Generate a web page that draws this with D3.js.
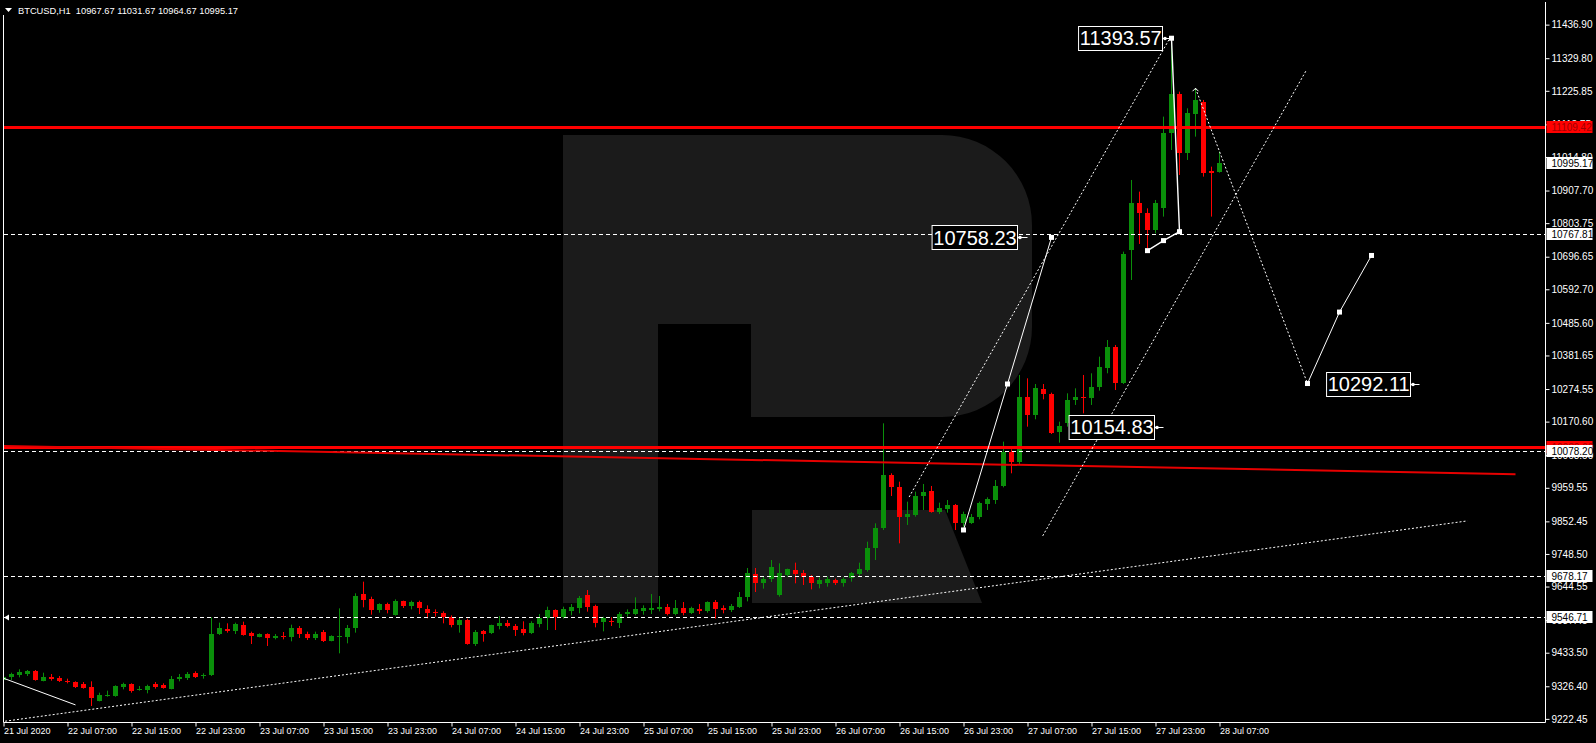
<!DOCTYPE html>
<html><head><meta charset="utf-8">
<script src="https://cdnjs.cloudflare.com/ajax/libs/d3/7.8.5/d3.min.js"></script>
<style>
html,body{margin:0;padding:0;background:#000;overflow:hidden}
svg{display:block}
text{font-family:"Liberation Sans",Arial,sans-serif}
</style></head><body>
<svg id="c" width="1596" height="743"></svg>
<script>
// ---------------- data ----------------
const symbol = "BTCUSD,H1";
const timeLabels = ["21 Jul 2020","22 Jul 07:00","22 Jul 15:00","22 Jul 23:00","23 Jul 07:00","23 Jul 15:00","23 Jul 23:00","24 Jul 07:00","24 Jul 15:00","24 Jul 23:00","25 Jul 07:00","25 Jul 15:00","25 Jul 23:00","26 Jul 07:00","26 Jul 15:00","26 Jul 23:00","27 Jul 07:00","27 Jul 15:00","27 Jul 23:00","28 Jul 07:00"];
const priceTicks = [11436.90,11329.80,11225.85,11118.75,11014.80,10907.70,10803.75,10696.65,10592.70,10485.60,10381.65,10274.55,10170.60,10063.50,9959.55,9852.45,9748.50,9644.55,9537.45,9433.50,9326.40,9222.45];

const open = [
9346.4,9354.9,9362.4,9365.5,9375.1,9344.3,9354.9,9352.8,9344.3,9340.0,
9332.6,9325.1,9280.5,9295.4,9295.4,9323.0,9333.7,9316.6,9314.5,9333.7,
9330.5,9318.8,9348.5,9351.7,9367.7,9360.2,9362.4,9493.1,9510.2,9501.6,
9522.9,9497.4,9484.6,9492.1,9481.4,9485.7,9484.6,9511.2,9493.1,9480.4,
9499.5,9471.9,9485.7,9484.6,9511.2,9620.7,9603.7,9569.7,9588.8,9553.8,
9597.3,9582.5,9594.2,9571.8,9564.4,9561.2,9548.4,9520.8,9537.8,9461.3,
9503.8,9495.3,9518.7,9529.3,9518.7,9508.0,9497.4,9525.0,9543.1,9569.7,
9548.4,9567.6,9575.0,9617.6,9582.5,9532.5,9535.7,9529.3,9557.0,9557.0,
9565.5,9569.7,9571.8,9580.3,9557.0,9576.1,9561.2,9571.8,9565.5,9595.2,
9577.2,9569.7,9580.3,9610.1,9684.5,9656.9,9667.5,9617.6,9682.4,9697.3,
9688.8,9676.0,9652.6,9656.9,9665.4,9654.8,9670.7,9684.5,9697.3,9766.4,
9830.2,10000.4,9961.0,9865.3,9872.8,9933.4,9950.4,9883.4,9890.8,9904.7,
9846.2,9848.3,9865.3,9908.0,9920.6,9965.3,10074.8,10042.9,10248.1,10191.8,
10273.6,10258.7,10138.6,10165.2,10239.6,10248.1,10244.9,10280.0,10340.6,10409.8,
10294.9,10718.1,10869.1,10837.2,10781.9,10851.0,11090.3,11215.7,11026.5,11151.9,
11191.3,10971.2,10967.67];
const high = [
9362.4,9369.8,9380.5,9378.3,9378.3,9369.8,9365.5,9359.2,9350.7,9342.2,
9340.0,9342.2,9306.0,9312.4,9329.4,9337.9,9335.8,9327.3,9331.5,9340.0,
9335.8,9359.2,9365.5,9371.9,9374.1,9367.7,9546.3,9529.3,9527.2,9529.3,
9532.5,9500.6,9495.3,9495.3,9493.1,9499.5,9522.9,9518.7,9500.6,9500.6,
9505.9,9488.9,9575.0,9521.9,9622.9,9660.1,9612.2,9591.0,9593.1,9603.7,
9599.5,9599.5,9599.5,9584.6,9571.8,9565.5,9552.7,9544.2,9542.1,9505.9,
9505.9,9522.9,9550.6,9537.8,9525.0,9533.6,9533.6,9556.9,9580.3,9571.8,
9580.3,9588.8,9614.4,9633.5,9586.7,9548.4,9546.3,9563.3,9571.8,9610.1,
9584.6,9620.7,9614.4,9588.8,9601.6,9595.2,9580.3,9588.8,9597.3,9601.6,
9584.6,9588.8,9627.1,9703.7,9703.7,9678.2,9729.2,9718.6,9701.6,9720.7,
9697.3,9681.4,9673.9,9676.0,9669.7,9673.9,9690.9,9720.7,9787.7,9846.2,
10165.2,10005.7,9979.1,9915.3,9947.2,9971.7,9965.3,9912.1,9920.6,9907.9,
9883.4,9876.0,9915.3,9929.1,9984.4,10106.7,10082.2,10319.4,10308.7,10290.6,
10290.6,10263.0,10170.5,10260.9,10276.8,10319.4,10324.7,10377.9,10431.0,10415.1,
10712.8,10941.4,10904.2,10851.0,10877.6,11143.5,11393.57,11223.2,11170.0,11233.8,
11196.6,10983.9,11031.67];
const low = [
9344.3,9346.4,9354.9,9359.2,9344.3,9342.2,9344.3,9340.0,9335.8,9320.9,
9318.8,9263.5,9278.4,9293.2,9293.2,9316.6,9306.0,9312.4,9303.9,9318.8,
9318.8,9316.6,9342.2,9346.4,9352.8,9350.7,9359.2,9490.0,9497.4,9493.1,
9487.8,9461.3,9482.5,9454.9,9476.1,9476.1,9469.8,9480.4,9474.0,9474.0,
9467.6,9469.8,9431.5,9463.4,9497.4,9578.2,9554.8,9561.2,9559.1,9551.6,
9576.1,9571.8,9556.9,9543.1,9548.4,9527.2,9514.4,9497.4,9459.1,9454.9,
9468.7,9493.1,9508.0,9514.4,9486.8,9488.9,9493.1,9514.4,9505.9,9505.9,
9542.1,9552.7,9559.1,9564.4,9514.4,9501.6,9518.7,9512.3,9548.4,9552.7,
9554.8,9556.9,9565.5,9552.7,9552.7,9552.7,9556.9,9556.9,9561.2,9542.1,
9559.1,9563.3,9576.1,9597.3,9627.1,9637.8,9659.0,9612.2,9676.0,9654.8,
9649.5,9635.6,9638.8,9644.1,9649.5,9644.1,9660.1,9676.0,9692.0,9729.2,
9824.9,9933.4,9782.4,9840.9,9867.4,9888.7,9880.2,9876.0,9880.2,9824.9,
9835.5,9844.1,9859.0,9888.7,9908.0,9961.0,10005.7,10035.4,10154.5,10178.0,
10241.7,10131.1,10103.5,10154.5,10223.7,10197.1,10223.7,10269.4,10324.7,10271.5,
10290.6,10622.4,10737.3,10723.4,10771.3,10824.5,11037.1,10957.4,11005.2,11079.6,
10952.0,10824.5,10964.67];
const close = [
9357.0,9364.5,9373.0,9375.1,9346.4,9354.9,9348.5,9344.3,9340.0,9325.1,
9321.9,9287.9,9299.6,9299.6,9327.3,9333.7,9312.4,9318.8,9328.3,9323.0,
9321.9,9350.7,9357.0,9364.5,9357.0,9362.4,9493.1,9512.3,9501.6,9525.0,
9490.0,9486.8,9492.1,9480.4,9486.8,9483.6,9511.2,9493.1,9480.4,9493.1,
9471.9,9486.8,9485.7,9511.2,9614.4,9601.6,9569.7,9588.8,9569.7,9597.3,
9582.5,9595.2,9575.0,9561.2,9559.1,9548.4,9521.9,9537.8,9461.3,9499.5,
9493.1,9520.8,9529.3,9518.7,9505.9,9495.3,9529.3,9544.2,9569.7,9546.3,
9571.8,9578.2,9608.0,9580.3,9529.3,9543.1,9531.4,9557.0,9563.3,9574.0,
9575.0,9577.2,9580.3,9557.0,9576.1,9561.2,9576.1,9567.6,9595.2,9574.0,
9569.7,9582.5,9610.1,9686.7,9656.9,9669.7,9707.9,9686.7,9699.4,9684.5,
9673.9,9654.8,9665.4,9669.7,9654.8,9667.5,9686.7,9699.4,9766.4,9830.2,
10000.4,9961.0,9867.4,9876.0,9933.4,9947.2,9883.4,9894.0,9904.7,9848.3,
9876.0,9865.3,9910.0,9922.7,9965.3,10074.8,10042.9,10248.1,10191.8,10276.8,
10258.7,10135.4,10156.7,10239.6,10248.1,10244.9,10282.1,10346.0,10409.8,10294.9,
10705.4,10869.1,10835.1,10781.9,10867.0,11090.3,11215.7,11028.6,11156.2,11196.6,
10962.7,10964.9,10995.17];

// horizontal levels
const dashedLevels = [10767.81, 10078.20, 9678.17, 9546.71];
const redLevels = [11109.42, 10089.60];
// trend lines: [barIndex, price] end points
const redTrend = [[0, 10093], [189, 10003]];
const supportLine = [[0.2, 9215], [183, 9854]];
const channelUpper = [[113.2, 9930], [145.8, 11394]];
const channelLower = [[129.9, 9806], [162.8, 11289]];
const entryLeg = [[0, 9352], [9, 9267]];
const waveUp = [[120, 9825], [125.5, 10290.6], [131, 10758.23]];
const wavePeak = [[143, 10716], [145, 10748], [147, 10776.5], [146, 11393.57]];
const forecastDown = [[149, 11234], [163, 10292.11]];
const forecastUp = [[163, 10292.11], [167, 10520], [171, 10700.6]];
const labelTexts = ["11393.57", "10758.23", "10154.83", "10292.11"];
const labelIdx = [146, 128, 145, 177];

// ---------------- drawing ----------------
const W = 1596, H = 743;
const L = 3.5, R = 1545.5, B = 722.5;
const green = "#0a8f0a", red = "#ff0000";
const n = open.length;

const svg = d3.select("#c");
svg.append("rect").attr("width", W).attr("height", H).attr("fill", "#000");

const x = d3.scaleLinear().domain([0, n - 1]).range([3.5, 3.5 + 8 * (n - 1)]);
const y = d3.scaleLinear().domain([9678.17, 11109.42]).range([576, 127.3]);

svg.append("defs").append("clipPath").attr("id", "clip")
  .append("rect").attr("x", 4).attr("y", 0).attr("width", R - 4).attr("height", B);

// watermark logo
const wm = svg.append("g").attr("fill", "#1b1b1b");
wm.append("path").attr("d", "M563,135 H942 A90,90 0 0 1 1032,225 V327 A90,90 0 0 1 942,417 H751 V324 H658 V603 H563 Z");
wm.append("path").attr("d", "M752,510 H945 L982,603 H752 Z");

const plot = svg.append("g").attr("clip-path", "url(#clip)");

// candles
const idx = d3.range(n);
const col = i => close[i] >= open[i] ? green : red;
plot.append("g").selectAll("line").data(idx).join("line")
  .attr("x1", i => x(i)).attr("x2", i => x(i))
  .attr("y1", i => y(high[i])).attr("y2", i => y(low[i]))
  .attr("stroke", col).attr("stroke-width", 1);
plot.append("g").selectAll("rect").data(idx).join("rect")
  .attr("x", i => x(i) - 2.5).attr("width", 5)
  .attr("y", i => Math.round(y(Math.max(open[i], close[i]))))
  .attr("height", i => Math.max(1, Math.round(y(Math.min(open[i], close[i]))) - Math.round(y(Math.max(open[i], close[i])))))
  .attr("fill", col);

// horizontal levels
plot.append("g").selectAll("line").data(dashedLevels).join("line")
  .attr("x1", 4).attr("x2", R).attr("y1", d => Math.round(y(d)) + 0.5).attr("y2", d => Math.round(y(d)) + 0.5)
  .attr("stroke", "#fff").attr("stroke-width", 1).attr("stroke-dasharray", "4,3");
plot.append("g").selectAll("line").data(redLevels).join("line")
  .attr("x1", 4).attr("x2", R).attr("y1", d => Math.round(y(d)) + 0.5).attr("y2", d => Math.round(y(d)) + 0.5)
  .attr("stroke", red).attr("stroke-width", 3);

const line = d3.line().x(d => x(d[0])).y(d => y(d[1]));
function path(pts, color, w, dash) {
  const p = plot.append("path").attr("d", line(pts)).attr("fill", "none")
    .attr("stroke", color).attr("stroke-width", w);
  if (dash) p.attr("stroke-dasharray", dash);
}
path(redTrend, "#e60000", 2);
path(supportLine, "#fff", 1, "2,2");
path(channelUpper, "#fff", 1, "2,2");
path(channelLower, "#fff", 1, "2,2");
path(entryLeg, "#fff", 1);
path(waveUp, "#fff", 1);
path(wavePeak, "#fff", 1.4);
path(forecastDown, "#fff", 1, "2,2");
path(forecastUp, "#fff", 1);

// square markers
const squares = [...waveUp, ...wavePeak, ...forecastUp];
plot.append("g").selectAll("rect").data(squares).join("rect")
  .attr("x", d => x(d[0]) - 2.5).attr("y", d => y(d[1]) - 2.5)
  .attr("width", 5).attr("height", 5).attr("fill", "#fff");

// small arrow at forecast start
const fa = forecastDown[0];
plot.append("path")
  .attr("d", `M${x(fa[0]) - 3},${y(fa[1]) + 3} L${x(fa[0])},${y(fa[1])} L${x(fa[0]) + 3},${y(fa[1]) + 3}`)
  .attr("fill", "none").attr("stroke", "#fff").attr("stroke-width", 1);
// small marker at left of 9546.71 line
plot.append("path")
  .attr("d", `M4,${Math.round(y(9546.71)) + 0.5} L9,${Math.round(y(9546.71)) - 2.5} L9,${Math.round(y(9546.71)) + 3.5} Z`)
  .attr("fill", "#fff");

// boxed price labels
const lab = plot.append("g");
labelTexts.forEach((t, k) => {
  const p = +t;
  const ax = x(labelIdx[k]);
  const cy = y(p);
  const g = lab.append("g");
  const tx = g.append("text").text(t).attr("font-size", 20).attr("fill", "#fff")
    .attr("dy", "0.36em").attr("y", cy);
  const tw = tx.node().getComputedTextLength();
  const right = Math.round(ax - 10) + 0.5;
  const left = right - tw - 2;
  g.insert("rect", "text").attr("x", left).attr("y", Math.round(cy - 12) + 0.5)
    .attr("width", tw + 2).attr("height", 24).attr("fill", "#000").attr("stroke", "#fff").attr("stroke-width", 1);
  tx.attr("x", left + 1.2);
  g.append("line").attr("x1", right).attr("x2", ax).attr("y1", Math.round(cy) + 0.5).attr("y2", Math.round(cy) + 0.5)
    .attr("stroke", "#fff").attr("stroke-width", 1);
  g.append("circle").attr("cx", right + 2.5).attr("cy", Math.round(cy) + 0.5).attr("r", 1.8).attr("fill", "#fff");
});

// frame
const frame = svg.append("g").attr("stroke", "#fff").attr("stroke-width", 1);
frame.append("line").attr("x1", L).attr("x2", L).attr("y1", 2).attr("y2", B);
frame.append("line").attr("x1", L).attr("x2", R).attr("y1", B).attr("y2", B);
frame.append("line").attr("x1", R).attr("x2", R).attr("y1", 2).attr("y2", B);

// price axis
const yAxis = d3.axisRight(y).tickValues(priceTicks).tickSize(4).tickFormat(d3.format(".2f"));
const ga = svg.append("g").attr("transform", `translate(${R},0)`).call(yAxis);
ga.select(".domain").remove();
ga.selectAll("line").attr("stroke", "#fff");
ga.selectAll("text").attr("fill", "#fff").attr("font-size", 10).attr("x", 6)
  .attr("font-family", "Liberation Sans, Arial, sans-serif");

// time axis
const xAxis = d3.axisBottom(x).tickValues(d3.range(0, n, 8)).tickSize(4)
  .tickFormat((d, i) => timeLabels[i]);
const gx = svg.append("g").attr("transform", `translate(0,${B})`).call(xAxis);
gx.select(".domain").remove();
gx.selectAll("line").attr("stroke", "#fff");
gx.selectAll("text").attr("fill", "#fff").attr("font-size", 9).attr("text-anchor", "start")
  .attr("x", 0).attr("y", 5).attr("font-family", "Liberation Sans, Arial, sans-serif");

// axis price boxes
const axisMarks = [
  {p: redLevels[0], bg: red, fg: "#a00000"},
  {p: redLevels[1], bg: red, fg: "#a00000"},
  {p: close[n - 1], bg: "#fff", fg: "#000"},
  ...dashedLevels.map(p => ({p, bg: "#fff", fg: "#000"}))
];
const am = svg.append("g");
axisMarks.forEach(m => {
  const cy = Math.round(y(m.p));
  am.append("rect").attr("x", R + 1).attr("y", cy - 6).attr("width", 46).attr("height", 12).attr("fill", m.bg);
  am.append("text").attr("x", R + 6).attr("y", cy).attr("dy", "0.35em").attr("font-size", 10)
    .attr("fill", m.fg).text(m.p.toFixed(2));
});

// header
svg.append("rect").attr("x", 0).attr("y", 0).attr("width", 245).attr("height", 15).attr("fill", "#000");
svg.append("path").attr("d", "M5,8 L12,8 L8.5,12 Z").attr("fill", "#fff");
svg.append("text").attr("x", 18).attr("y", 14).attr("font-size", 9.3).attr("fill", "#fff")
  .style("white-space", "pre")
  .text(`${symbol}  ${open[n-1].toFixed(2)} ${high[n-1].toFixed(2)} ${low[n-1].toFixed(2)} ${close[n-1].toFixed(2)}`);
</script>
</body></html>
